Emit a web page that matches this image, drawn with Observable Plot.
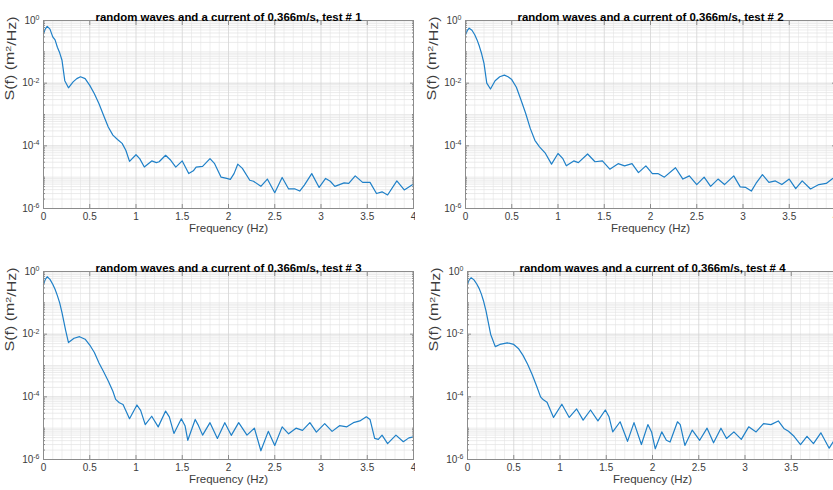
<!DOCTYPE html>
<html>
<head>
<meta charset="utf-8">
<script src="https://cdn.jsdelivr.net/npm/d3@7"></script>
<script src="https://cdn.jsdelivr.net/npm/@observablehq/plot@0.6"></script>
<style>
  html, body { margin: 0; padding: 0; background: #fff; }
  #fig { position: relative; width: 833px; height: 490px; overflow: hidden; background: #fff; }
  #fig .panel { position: absolute; }
</style>
</head>
<body>
<div id="fig"></div>
<script>
// Panel titles and axis text
const titles = [
  "random waves and a current of 0.366m/s, test # 1",
  "random waves and a current of 0.366m/s, test # 2",
  "random waves and a current of 0.366m/s, test # 3",
  "random waves and a current of 0.366m/s, test # 4"
];
const xLabel = "Frequency (Hz)";
const yLabel = "S(f) (m\u00B2/Hz)";
const xTicks = [0, 0.5, 1, 1.5, 2, 2.5, 3, 3.5, 4];
const yTicks = [1e-6, 1e-4, 1e-2, 1];

// Spectral density S(f) for each test
const freq1 = [0,0.02,0.04,0.07,0.1,0.125,0.15,0.175,0.2,0.23,0.27,0.32,0.36,0.4,0.45,0.5,0.55,0.6,0.65,0.7,0.75,0.8,0.85,0.89,0.93,1.0,1.04,1.09,1.17,1.22,1.25,1.32,1.37,1.43,1.5,1.57,1.62,1.65,1.72,1.8,1.85,1.92,1.98,2.02,2.06,2.1,2.15,2.23,2.27,2.35,2.42,2.5,2.58,2.65,2.72,2.77,2.82,2.9,2.98,3.05,3.1,3.15,3.25,3.3,3.37,3.45,3.53,3.6,3.66,3.72,3.82,3.9,4.0];
const spec1 = [3.8e-1,5.4e-1,6.5e-1,5.3e-1,3.0e-1,2.4e-1,1.4e-1,9.3e-2,5.4e-2,1.2e-2,7.1e-3,1.1e-2,1.4e-2,1.6e-2,1.4e-2,8.5e-3,4.6e-3,2.2e-3,9.3e-4,4.0e-4,2.2e-4,1.6e-4,1.2e-4,7.2e-5,3.2e-5,5.2e-5,3.9e-5,2.1e-5,3.3e-5,2.9e-5,3.1e-5,5.0e-5,3.6e-5,2.1e-5,3.3e-5,1.3e-5,1.6e-5,2.1e-5,2.2e-5,3.9e-5,2.7e-5,1.0e-5,9.1e-6,8.5e-6,1.3e-5,2.6e-5,1.9e-5,8.0e-6,7.4e-6,5.1e-6,8.7e-6,3.2e-6,9.8e-6,4.2e-6,4.2e-6,3.6e-6,5.6e-6,1.3e-5,4.7e-6,9.1e-6,7.4e-6,5.1e-6,6.6e-6,6.3e-6,1.1e-5,6.8e-6,6.8e-6,3.0e-6,3.4e-6,2.7e-6,7.6e-6,3.9e-6,6.0e-6];

const freq2 = [0,0.02,0.04,0.07,0.1,0.125,0.15,0.175,0.2,0.23,0.27,0.32,0.37,0.42,0.46,0.5,0.55,0.6,0.65,0.7,0.75,0.8,0.86,0.93,1.0,1.05,1.09,1.17,1.22,1.32,1.4,1.48,1.56,1.65,1.72,1.8,1.87,1.95,2.02,2.08,2.15,2.27,2.35,2.42,2.5,2.58,2.65,2.73,2.8,2.9,2.97,3.03,3.09,3.14,3.21,3.28,3.35,3.42,3.5,3.57,3.64,3.73,3.82,3.9,3.97,4.0];
const spec2 = [3.5e-1,4.8e-1,5.7e-1,4.9e-1,3.5e-1,2.4e-1,1.5e-1,8.5e-2,4.3e-2,1.0e-2,6.5e-3,1.2e-2,1.6e-2,1.8e-2,1.6e-2,1.3e-2,7.4e-3,2.9e-3,1.1e-3,3.6e-4,1.5e-4,9.3e-5,6.0e-5,2.6e-5,5.7e-5,4.0e-5,2.3e-5,3.3e-5,2.9e-5,5.5e-5,3.1e-5,3.3e-5,1.8e-5,2.7e-5,2.3e-5,2.7e-5,1.4e-5,2.3e-5,1.3e-5,1.3e-5,1.0e-5,2.0e-5,8.7e-6,1.1e-5,5.8e-6,1.0e-5,5.1e-6,8.7e-6,5.8e-6,1.1e-5,4.9e-6,4.7e-6,3.6e-6,6.3e-6,1.2e-5,6.8e-6,7.6e-6,5.8e-6,8.7e-6,4.3e-6,7.6e-6,4.2e-6,5.8e-6,6.3e-6,9.1e-6,1.0e-5];

const freq3 = [0,0.02,0.04,0.07,0.1,0.125,0.15,0.175,0.2,0.24,0.27,0.33,0.39,0.45,0.5,0.55,0.6,0.65,0.7,0.75,0.78,0.82,0.86,0.93,1.01,1.05,1.1,1.17,1.24,1.32,1.36,1.41,1.49,1.53,1.56,1.64,1.67,1.72,1.8,1.88,1.96,2.03,2.11,2.2,2.28,2.35,2.43,2.5,2.58,2.65,2.73,2.8,2.88,2.95,3.04,3.12,3.2,3.28,3.35,3.42,3.49,3.53,3.58,3.62,3.66,3.72,3.81,3.89,3.95,4.0];
const spec3 = [3.9e-1,5.6e-1,6.8e-1,5.6e-1,3.9e-1,2.7e-1,1.7e-1,1.0e-1,4.9e-2,1.3e-2,5.4e-3,7.4e-3,8.3e-3,6.9e-3,4.5e-3,2.6e-3,1.2e-3,6.3e-4,3.2e-4,1.5e-4,8.3e-5,6.5e-5,5.7e-5,2.0e-5,5.5e-5,3.7e-5,1.3e-5,2.4e-5,1.1e-5,3.5e-5,2.3e-5,6.8e-6,2.0e-5,1.2e-5,4.1e-6,1.9e-5,1.3e-5,6.0e-6,1.5e-5,4.7e-6,1.5e-5,5.9e-6,1.5e-5,6.0e-6,1.0e-5,1.9e-6,7.9e-6,2.8e-6,1.1e-5,6.6e-6,1.0e-5,8.5e-6,1.5e-5,7.5e-6,1.4e-5,7.9e-6,1.2e-5,1.1e-5,1.5e-5,1.7e-5,2.3e-5,1.9e-5,4.7e-6,4.4e-6,6.0e-6,3.2e-6,6.0e-6,3.7e-6,4.9e-6,5.3e-6];

const freq4 = [0,0.02,0.04,0.07,0.1,0.125,0.15,0.175,0.2,0.25,0.3,0.35,0.43,0.5,0.55,0.6,0.65,0.7,0.75,0.79,0.82,0.86,0.93,1.02,1.1,1.18,1.25,1.33,1.41,1.49,1.53,1.57,1.65,1.73,1.8,1.88,1.95,1.99,2.03,2.1,2.15,2.19,2.27,2.3,2.35,2.43,2.51,2.59,2.66,2.74,2.8,2.88,2.96,3.04,3.12,3.2,3.28,3.36,3.42,3.47,3.53,3.6,3.67,3.74,3.82,3.91,3.96,4.0];
const spec4 = [4.0e-1,5.5e-1,6.3e-1,5.4e-1,4.0e-1,2.9e-1,1.9e-1,1.1e-1,5.5e-2,1.0e-2,4.0e-3,4.7e-3,5.3e-3,4.7e-3,3.5e-3,2.1e-3,1.1e-3,5.1e-4,2.1e-4,1.0e-4,8.0e-5,6.7e-5,2.2e-5,5.8e-5,2.2e-5,4.1e-5,1.8e-5,3.8e-5,1.7e-5,3.8e-5,2.3e-5,7.6e-6,1.6e-5,3.8e-6,1.5e-5,3.0e-6,1.3e-5,7.6e-6,2.2e-6,7.6e-6,4.1e-6,3.6e-6,1.6e-5,1.3e-5,2.8e-6,8.7e-6,4.1e-6,1.0e-5,3.4e-6,1.0e-5,4.7e-6,7.6e-6,4.4e-6,1.1e-5,7.6e-6,1.4e-5,1.3e-5,1.7e-5,9.8e-6,8.0e-6,5.5e-6,3.0e-6,5.5e-6,3.2e-6,7.1e-6,2.3e-6,3.9e-6,5.3e-6];

// Panel placement on the page (2 x 2 grid)
const placement = [
  {left: 0, top: 0},
  {left: 422, top: 0},
  {left: 0, top: 251},
  {left: 424, top: 251}
];

// Log-axis minor grid: 2..9 x 10^k, plus the unlabelled odd decades
const minorY = [];
for (let e = -6; e < 0; e++) for (let k = 1; k <= 9; k++) {
  if (k === 1 && e % 2 === 0) continue;
  minorY.push(k * Math.pow(10, e));
}
const minorX = d3.range(0, 41).map(i => i / 10).filter(v => Math.abs(v * 2 - Math.round(v * 2)) > 1e-9);

const frameColor = "#8c8c8c";
const textColor = "#3c3c3c";
const SVGNS = "http://www.w3.org/2000/svg";

function panel(title, freq, spec) {
  const data = freq.map((f, i) => ({f, s: spec[i]}));
  const svg = Plot.plot({
    width: 415,
    height: 245,
    marginLeft: 43,
    marginRight: 2,
    marginTop: 20,
    marginBottom: 37,
    style: {fontFamily: "'Liberation Sans', Arial, sans-serif", fontSize: "10px", color: textColor, background: "transparent"},
    x: {domain: [0, 4], axis: null},
    y: {type: "log", domain: [1e-6, 1], axis: null},
    marks: [
      Plot.ruleX(minorX, {stroke: "#e4e4e4", strokeWidth: 0.6}),
      Plot.ruleY(minorY, {stroke: "#e2e2e2", strokeWidth: 0.7}),
      Plot.ruleX(xTicks, {stroke: "#d4d4d4", strokeWidth: 0.8}),
      Plot.ruleY(yTicks, {stroke: "#d4d4d4", strokeWidth: 0.8}),
      Plot.line(data, {x: "f", y: "s", stroke: "#1f80c8", strokeWidth: 1.2}),
      Plot.frame({stroke: frameColor}),
      Plot.axisX({ticks: xTicks, anchor: "bottom", tickSize: -4, tickPadding: 8, tickFormat: d => String(d), label: null, stroke: frameColor, fill: textColor}),
      Plot.axisX({ticks: xTicks, anchor: "top", tickSize: -4, tickFormat: () => "", label: null, stroke: frameColor}),
      Plot.axisY({ticks: yTicks, anchor: "left", tickSize: -4, tickPadding: 8, tickFormat: d => "10^" + Math.round(Math.log10(d)), label: null, stroke: frameColor, fill: textColor}),
      Plot.axisY({ticks: yTicks, anchor: "right", tickSize: -4, tickFormat: () => "", label: null, stroke: frameColor}),
      Plot.axisY({ticks: minorY, anchor: "left", tickSize: -2, tickFormat: () => "", label: null, stroke: frameColor}),
      Plot.axisY({ticks: minorY, anchor: "right", tickSize: -2, tickFormat: () => "", label: null, stroke: frameColor}),
      Plot.text([title], {frameAnchor: "top", dy: -8, fontWeight: "bold", fontSize: 11.5, fill: "#000"}),
      Plot.text([xLabel], {frameAnchor: "bottom", dy: 23, fontSize: 11.5, fill: textColor}),
      Plot.text([yLabel], {frameAnchor: "left", dx: -33, dy: -14, rotate: -90, fontSize: 12, fill: textColor})
    ]
  });
  // Power-of-ten tick labels with a raised exponent
  svg.querySelectorAll('[aria-label="y-axis tick label"] text').forEach(t => {
    const m = /^10\^(-?\d+)$/.exec(t.textContent);
    if (!m) return;
    t.textContent = "10";
    const sup = document.createElementNS(SVGNS, "tspan");
    sup.setAttribute("dy", "-0.55em");
    sup.setAttribute("font-size", "7px");
    sup.textContent = m[1];
    t.appendChild(sup);
  });
  svg.querySelectorAll('[aria-label="text"] text').forEach(t => {
    if (t.textContent === title) {
      // bold title set to its full width
      t.setAttribute("textLength", "266");
      t.setAttribute("lengthAdjust", "spacingAndGlyphs");
    } else if (t.textContent === yLabel) {
      // y label: raised "2" in m²
      t.textContent = "S(f) (m";
      const sup = document.createElementNS(SVGNS, "tspan");
      sup.setAttribute("dy", "-0.45em");
      sup.setAttribute("font-size", "8px");
      sup.textContent = "2";
      const rest = document.createElementNS(SVGNS, "tspan");
      rest.setAttribute("dy", "0.45em");
      rest.textContent = "/Hz)";
      t.appendChild(sup);
      t.appendChild(rest);
      t.setAttribute("textLength", "84");
      t.setAttribute("lengthAdjust", "spacingAndGlyphs");
    }
  });
  return svg;
}

const fig = document.getElementById("fig");
const series = [[freq1, spec1], [freq2, spec2], [freq3, spec3], [freq4, spec4]];
series.forEach(([f, s], i) => {
  const svg = panel(titles[i], f, s);
  svg.classList.add("panel");
  svg.style.left = placement[i].left + "px";
  svg.style.top = placement[i].top + "px";
  fig.appendChild(svg);
});
</script>
</body>
</html>
